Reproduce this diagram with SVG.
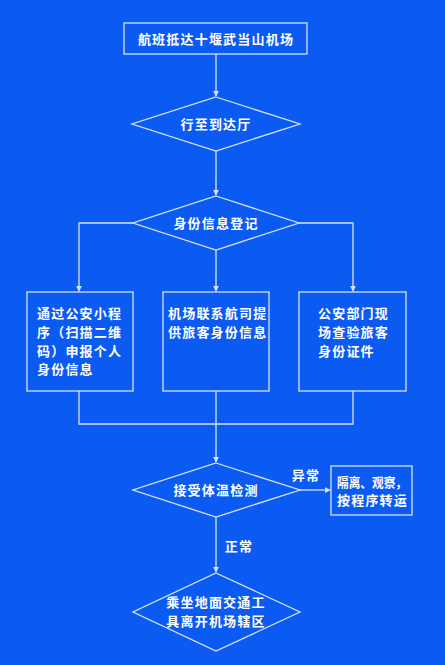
<svg xmlns="http://www.w3.org/2000/svg" width="445" height="665" viewBox="0 0 445 665">
<style>
.s{fill:none;stroke:#d6e4ff;stroke-width:1.3}
.t{fill:#ffffff;font-family:"Noto Sans CJK SC","Noto Sans",sans-serif;font-size:13px;font-weight:bold;letter-spacing:1.2px}
.c{text-anchor:middle}
</style>
<defs>
<marker id="a" viewBox="0 0 8 8" refX="7" refY="4" markerWidth="6" markerHeight="6" orient="auto" markerUnits="userSpaceOnUse">
<path d="M0,0 L8,4 L0,8 Z" fill="#d6e4ff"/>
</marker>
</defs>
<rect width="445" height="665" fill="#0b5bf3"/>
<g id="connectors">
<path class="s" d="M216,54 V96" marker-end="url(#a)"/>
<path class="s" d="M216,151 V195" marker-end="url(#a)"/>
<path class="s" d="M133,223 H79 V291" marker-end="url(#a)"/>
<path class="s" d="M216,250 V291" marker-end="url(#a)"/>
<path class="s" d="M299,223 H353 V291" marker-end="url(#a)"/>
<path class="s" d="M79,391 V424 H353 V391"/>
<path class="s" d="M216,391 V424"/>
<path class="s" d="M216,424 V462" marker-end="url(#a)"/>
<path class="s" d="M300,490 H330" marker-end="url(#a)"/>
<path class="s" d="M216,517 V572" marker-end="url(#a)"/>
<text class="t c" x="306" y="480">异常</text>
<text class="t c" x="239" y="551">正常</text>
</g>
<g id="n1">
<rect class="s" x="124" y="23" width="183" height="31"/>
<text class="t c" x="216" y="44">航班抵达十堰武当山机场</text>
</g>
<g id="n2">
<path class="s" d="M216,97 L300,124 L216,151 L132,124 Z"/>
<text class="t c" x="216" y="129">行至到达厅</text>
</g>
<g id="n3">
<path class="s" d="M216,196 L299,223 L216,250 L133,223 Z"/>
<text class="t c" x="216" y="228">身份信息登记</text>
</g>
<g id="n4">
<rect class="s" x="27" y="292" width="106" height="99"/>
<text class="t" x="37" y="318">通过公安小程</text>
<text class="t" x="37" y="337">序（扫描二维</text>
<text class="t" x="37" y="356">码）申报个人</text>
<text class="t" x="37" y="374">身份信息</text>
</g>
<g id="n5">
<rect class="s" x="163" y="292" width="106" height="99"/>
<text class="t" x="168" y="318">机场联系航司提</text>
<text class="t" x="168" y="337">供旅客身份信息</text>
</g>
<g id="n6">
<rect class="s" x="299" y="292" width="107" height="99"/>
<text class="t" x="318" y="318">公安部门现</text>
<text class="t" x="318" y="337">场查验旅客</text>
<text class="t" x="318" y="356">身份证件</text>
</g>
<g id="n7">
<path class="s" d="M216,463 L300,490 L216,517 L133,490 Z"/>
<text class="t c" x="216" y="495">接受体温检测</text>
</g>
<g id="n8">
<rect class="s" x="331" y="466" width="81" height="49"/>
<text class="t" x="337" y="487" style="letter-spacing:0" textLength="70" lengthAdjust="spacingAndGlyphs">隔离、观察，</text>
<text class="t" x="337" y="505">按程序转运</text>
</g>
<g id="n9">
<path class="s" d="M216,573 L300,612 L216,651 L133,612 Z"/>
<text class="t c" x="216" y="607">乘坐地面交通工</text>
<text class="t c" x="216" y="626">具离开机场辖区</text>
</g>
</svg>
